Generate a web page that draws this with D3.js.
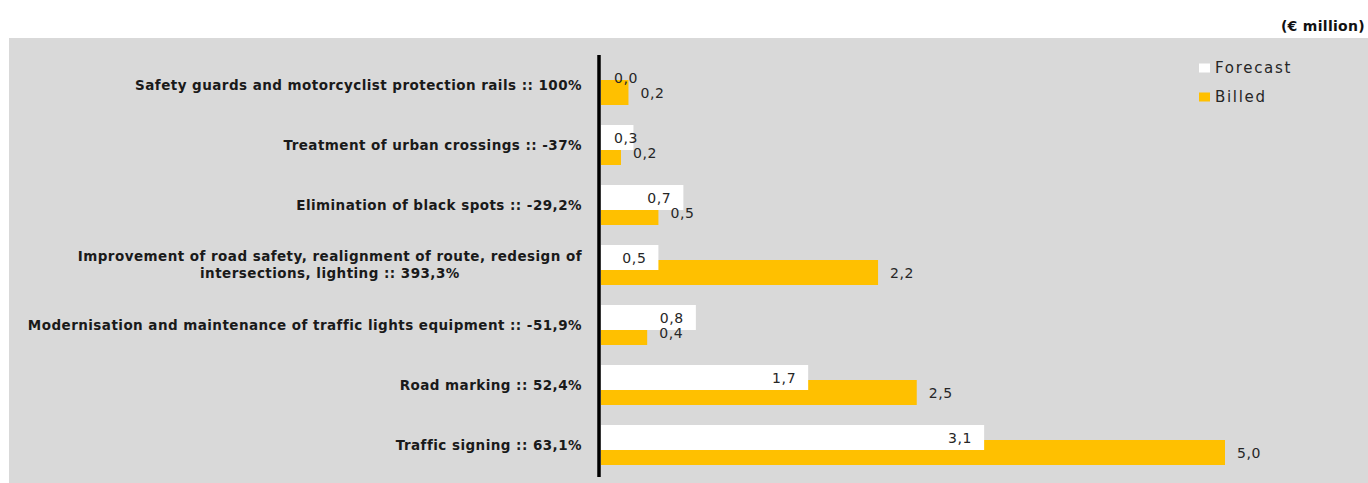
<!DOCTYPE html>
<html>
<head>
<meta charset="utf-8">
<script src="https://cdn.jsdelivr.net/npm/d3@7"></script>
<style>
  body { margin: 0; background: #fff; }
  .cat { font-family: "DejaVu Sans", sans-serif; font-weight: bold; font-size: 13.5px; fill: #1a1a1a; letter-spacing: 0.45px; }
  .val { font-family: "DejaVu Sans", sans-serif; font-size: 14px; fill: #262626; letter-spacing: 0.6px; }
  .leg { font-family: "DejaVu Sans", sans-serif; font-size: 15px; fill: #262626; letter-spacing: 1.7px; }
</style>
</head>
<body>
<div id="chart"></div>
<script>
var categories = [
    ["Safety guards and motorcyclist protection rails :: 100%"],
    ["Treatment of urban crossings :: -37%"],
    ["Elimination of black spots :: -29,2%"],
    ["Improvement of road safety, realignment of route, redesign of", "intersections, lighting :: 393,3%"],
    ["Modernisation and maintenance of traffic lights equipment :: -51,9%"],
    ["Road marking :: 52,4%"],
    ["Traffic signing :: 63,1%"]
];
var forecast = [0.0, 0.26, 0.66, 0.46, 0.76, 1.66, 3.07];
var billed   = [0.22, 0.16, 0.46, 2.22, 0.37, 2.53, 5.0];
var seriesNames = ["Forecast", "Billed"];

var width = 1368, height = 483;
var fmt = function(v) { return d3.format(".1f")(v).replace(".", ","); };

var svg = d3.select("#chart").append("svg")
    .attr("width", width)
    .attr("height", height);

// plot background
svg.append("rect")
    .attr("x", 9).attr("y", 38)
    .attr("width", width - 9).attr("height", height - 38)
    .attr("fill", "#d9d9d9");

svg.append("text")
    .attr("x", 1365).attr("y", 31)
    .attr("text-anchor", "end")
    .attr("font-family", "DejaVu Sans, sans-serif")
    .attr("font-weight", "bold")
    .attr("font-size", "14px")
    .attr("letter-spacing", "0.3px")
    .attr("fill", "#111")
    .text("(€ million)");

var x = d3.scaleLinear().domain([0, 5]).range([601, 1225]);
var y = d3.scaleBand().domain(d3.range(categories.length)).range([55, 475]);

var groups = svg.selectAll(".grp")
    .data(categories.map(function(c, i) { return { i: i, lines: c, f: forecast[i], b: billed[i] }; }))
    .enter().append("g")
    .attr("class", "grp")
    .attr("transform", function(d) { return "translate(0," + (y(d.i) + y.bandwidth() / 2) + ")"; });

// billed first, forecast drawn on top
groups.append("rect")
    .attr("x", x(0))
    .attr("y", -12.5 + 7.5)
    .attr("width", function(d) { return x(d.b) - x(0); })
    .attr("height", 25)
    .attr("fill", "#ffc000");

groups.append("rect")
    .attr("x", x(0))
    .attr("y", -12.5 - 7.5)
    .attr("width", function(d) { return x(d.f) - x(0); })
    .attr("height", 25)
    .attr("fill", "#ffffff");

groups.append("text")
    .attr("class", "val")
    .attr("x", function(d) { return Math.max(x(d.f) - 12, x(0) + 37); })
    .attr("y", -7.5)
    .attr("dy", "0.36em")
    .attr("text-anchor", "end")
    .text(function(d) { return fmt(d.f); });

groups.append("text")
    .attr("class", "val")
    .attr("x", function(d) { return x(d.b) + 12; })
    .attr("y", 7.5)
    .attr("dy", "0.36em")
    .text(function(d) { return fmt(d.b); });

// category labels, multi-line ones centred on their longest line
var labelRight = 582;
groups.each(function(d) {
    var t = d3.select(this).append("text")
        .attr("class", "cat")
        .attr("y", d.lines.length > 1 ? -4.5 : 0)
        .attr("dy", "0.35em");
    if (d.lines.length == 1) {
        t.attr("text-anchor", "end").append("tspan").attr("x", labelRight).text(d.lines[0]);
    } else {
        t.attr("text-anchor", "middle");
        var spans = t.selectAll("tspan").data(d.lines).enter().append("tspan")
            .attr("dy", function(l, k) { return k == 0 ? 0 : 17; })
            .text(function(l) { return l; });
        var w = spans.node().getComputedTextLength();
        spans.attr("x", labelRight - w / 2);
    }
});

// vertical axis line
svg.append("line")
    .attr("x1", 599).attr("x2", 599)
    .attr("y1", 55).attr("y2", 477)
    .attr("stroke", "#000")
    .attr("stroke-width", 3.5);

// legend
var legend = svg.selectAll(".legend")
    .data(seriesNames)
    .enter().append("g")
    .attr("transform", function(d, i) { return "translate(1199," + (68 + i * 29) + ")"; });
legend.append("rect")
    .attr("y", -4.5)
    .attr("width", 11).attr("height", 9)
    .attr("fill", function(d, i) { return i == 0 ? "#ffffff" : "#ffc000"; });
legend.append("text")
    .attr("class", "leg")
    .attr("x", 16)
    .attr("dy", "0.36em")
    .text(function(d) { return d; });
</script>
</body>
</html>
